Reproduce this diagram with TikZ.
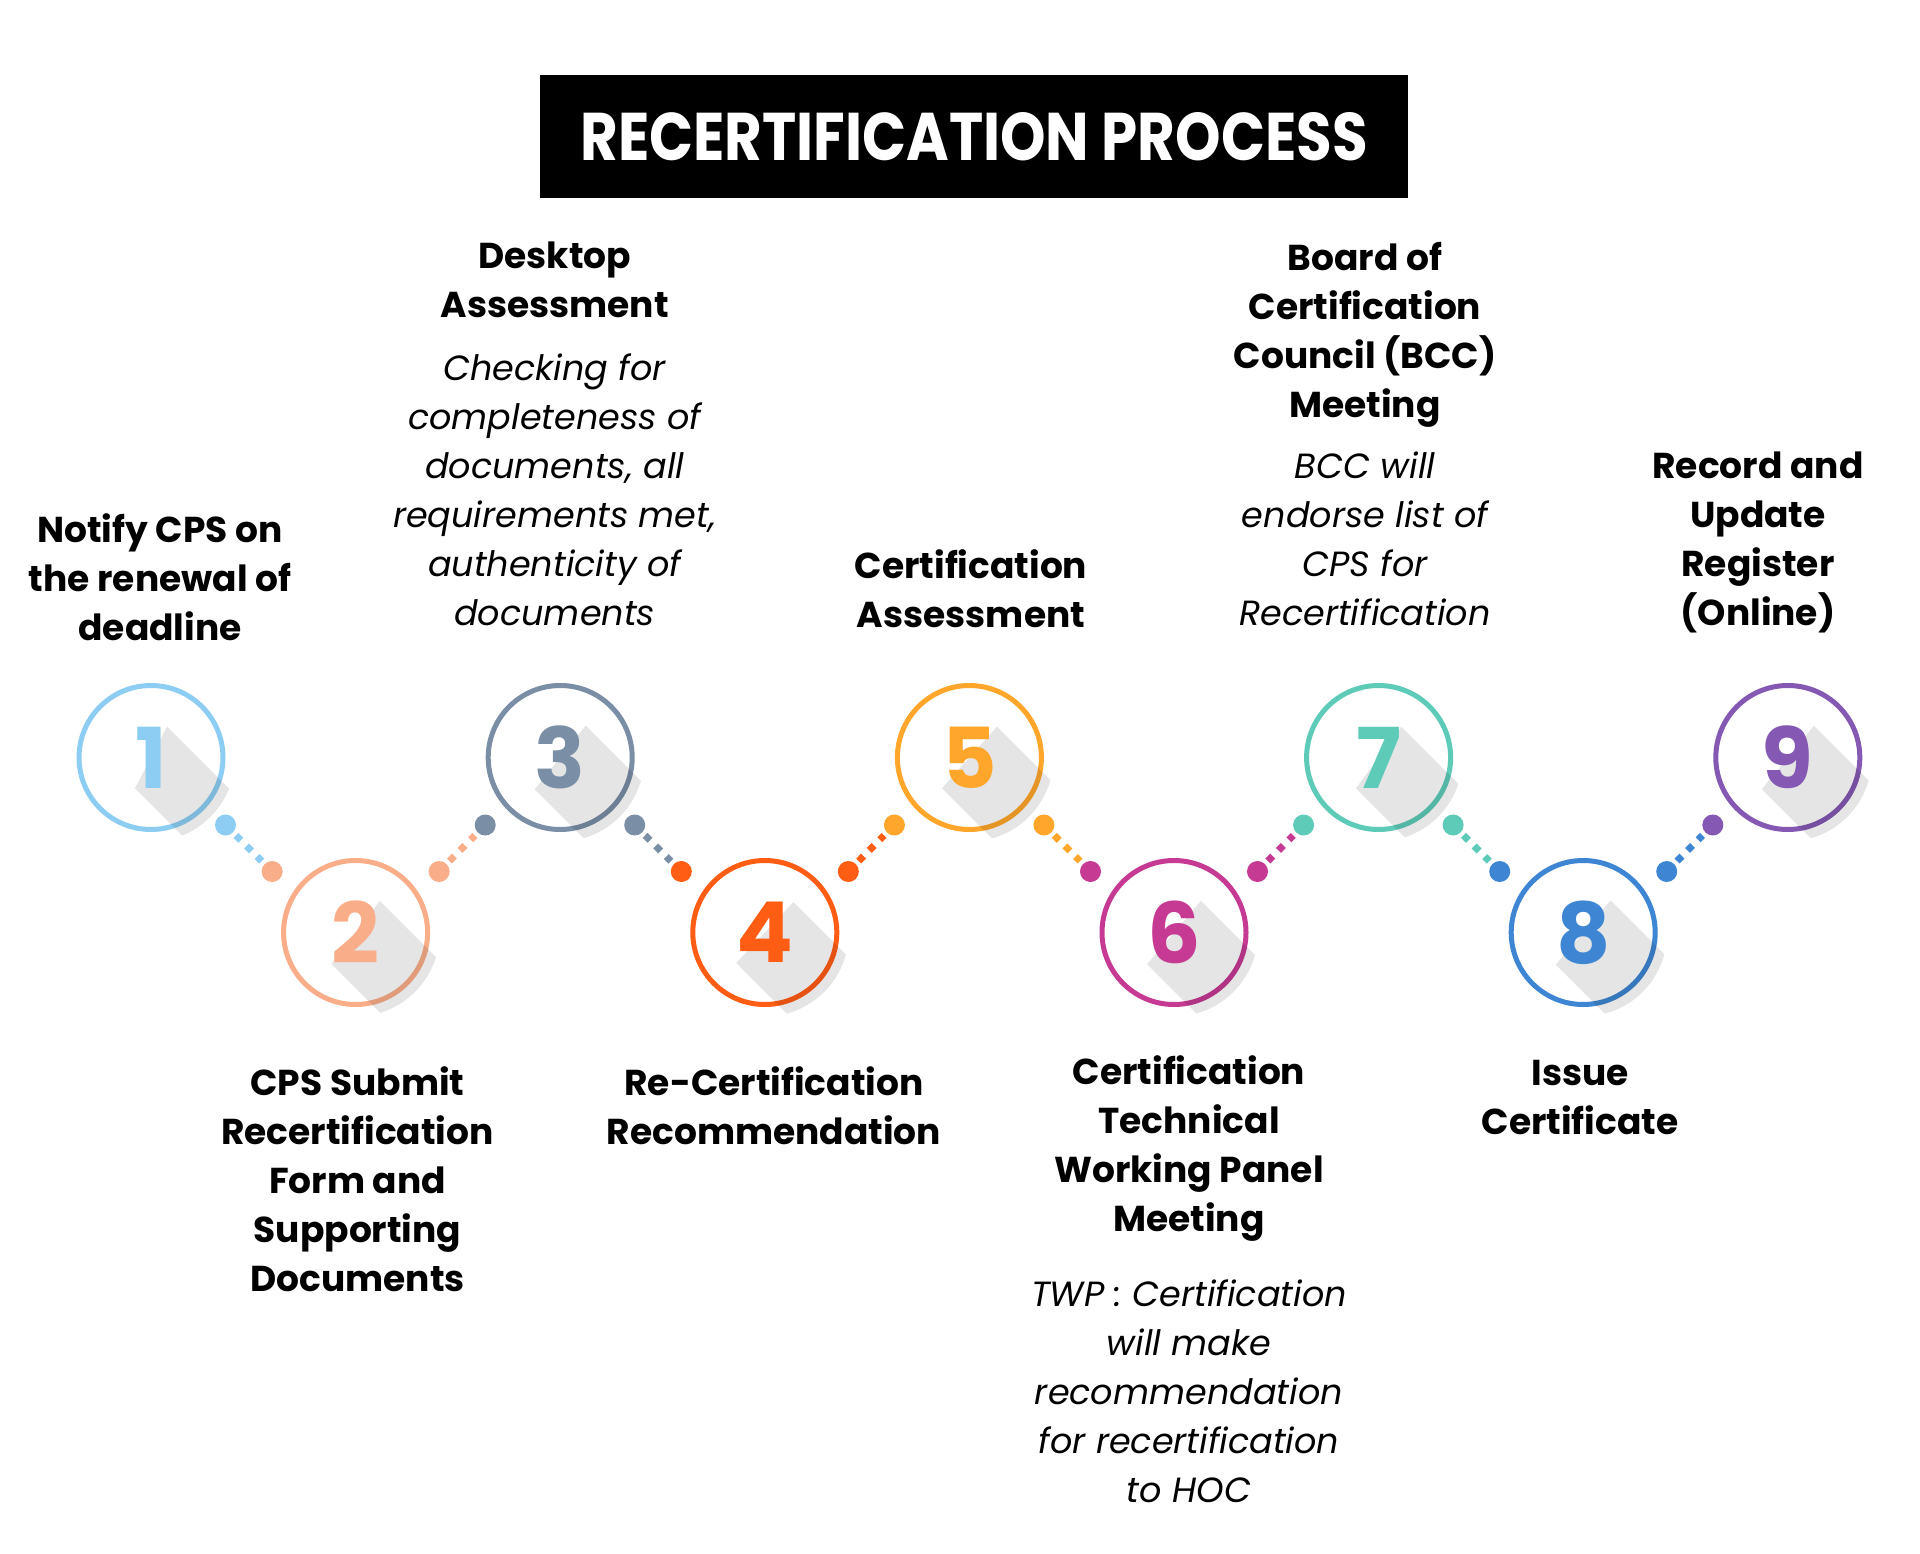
\documentclass[tikz,border=0pt]{standalone}
\usepackage{fontspec,graphicx}
\setmainfont{Poppins}
\usetikzlibrary{calc}

\definecolor{cOne}{HTML}{8DCDF4}
\definecolor{cTwo}{HTML}{F9AD88}
\definecolor{cThree}{HTML}{7A8EA5}
\definecolor{cFour}{HTML}{FF5C14}
\definecolor{cFive}{HTML}{FFA62B}
\definecolor{cSix}{HTML}{C63A94}
\definecolor{cSeven}{HTML}{5ECBB8}
\definecolor{cEight}{HTML}{3E86D3}
\definecolor{cNine}{HTML}{8458B3}

\pgfdeclarelayer{rings}
\pgfdeclarelayer{shadows}
\pgfsetlayers{rings,shadows,main}

\begin{document}
\begin{tikzpicture}[x=1pt,y=-1pt,
    ring/.style={circle,draw=#1,line width=5pt,minimum size=144pt,inner sep=0pt},
    dot/.style={circle,fill=#1,minimum size=21pt,inner sep=0pt},
    link/.style={draw=#1,line width=7pt,dash pattern=on 7pt off 8pt,shorten <=4pt,shorten >=4pt},
    num/.style={text=#1,font=\fontsize{84}{84}\selectfont\bfseries,inner sep=0pt},
    longshadow/.style={fill=black,fill opacity=0.1},
    head/.style={font=\fontsize{36}{49}\selectfont\bfseries,align=center,anchor=north,inner sep=0pt},
    note/.style={font=\fontsize{35}{49}\selectfont\itshape,align=center,anchor=north,inner sep=0pt}]
  \begin{pgfonlayer}{rings}
    \fill[white] (0,0) rectangle (1920,1554);
  \end{pgfonlayer}
  \useasboundingbox (0,0) rectangle (1920,1554);

  % title
  \node[fill=black,minimum width=868pt,minimum height=123pt] (title) at (974,136.5)
    {\resizebox{787pt}{48pt}{\color{white}\bfseries RECERTIFICATION PROCESS}};

  % rings, numbers and long shadows
  \foreach \i/\col in {1/cOne,2/cTwo,3/cThree,4/cFour,5/cFive,6/cSix,7/cSeven,8/cEight,9/cNine}{
    \pgfmathsetmacro\cx{151+204.6*(\i-1)}
    \pgfmathsetmacro\cy{isodd(\i) ? 757.5 : 932.5}
    \begin{pgfonlayer}{rings}
      \node[ring=\col] (c\i) at (\cx,\cy) {};
    \end{pgfonlayer}
    \node[num=\col] (n\i) at (c\i) {\i};
    \begin{pgfonlayer}{shadows}
      \begin{scope}
        \clip (c\i.center) circle (84);
        \fill[longshadow] (n\i.north east) -- ++(160,160)
          -- ($(n\i.south west)+(160,160)$) -- (n\i.south west) -- cycle;
      \end{scope}
    \end{pgfonlayer}
  }

  % dots
  \foreach \i/\col in {1/cOne,3/cThree,5/cFive,7/cSeven,9/cNine}{
    \ifnum\i>1 \node[dot=\col] (l\i) at ($(c\i)+(-75,67.5)$) {}; \fi
    \ifnum\i<9 \node[dot=\col] (r\i) at ($(c\i)+(74.5,67.5)$) {}; \fi
  }
  \foreach \i/\col in {2/cTwo,4/cFour,6/cSix,8/cEight}{
    \node[dot=\col] (l\i) at ($(c\i)+(-83.5,-61)$) {};
    \node[dot=\col] (r\i) at ($(c\i)+(83.5,-61)$) {};
  }

  % dotted links
  \foreach \i/\j/\col in {1/2/cOne,2/3/cTwo,3/4/cThree,4/5/cFour,5/6/cFive,6/7/cSix,7/8/cSeven,8/9/cEight}
    \draw[link=\col] (r\i) -- (l\j);

  % texts
  \node[head] (t1) at (160,513) {Notify CPS on\\the renewal of\\deadline};
  \node[head] (t2) at (357.5,1066) {CPS Submit\\Recertification\\Form and\\Supporting\\Documents};
  \node[head] (t3) at (554.7,242) {Desktop\\Assessment};
  \node[note] (d3) at (554.7,354) {Checking for\\completeness of\\documents, all\\requirements met,\\authenticity of\\documents};
  \node[head] (t4) at (774,1066) {Re-Certification\\Recommendation};
  \node[head] (t5) at (971,549) {Certification\\Assessment};
  \node[head] (t6) at (1189,1055) {Certification\\Technical\\Working Panel\\Meeting};
  \node[note] (d6) at (1189,1280) {TWP : Certification\\will make\\recommendation\\for recertification\\to HOC};
  \node[head] (t7) at (1365,242) {Board of\\Certification\\Council (BCC)\\Meeting};
  \node[note] (d7) at (1365,452) {BCC will\\endorse list of\\CPS for\\Recertification};
  \node[head] (t8) at (1580,1060) {Issue\\Certificate};
  \node[head] (t9) at (1758,452) {Record and\\Update\\Register\\(Online)};
\end{tikzpicture}
\end{document}
